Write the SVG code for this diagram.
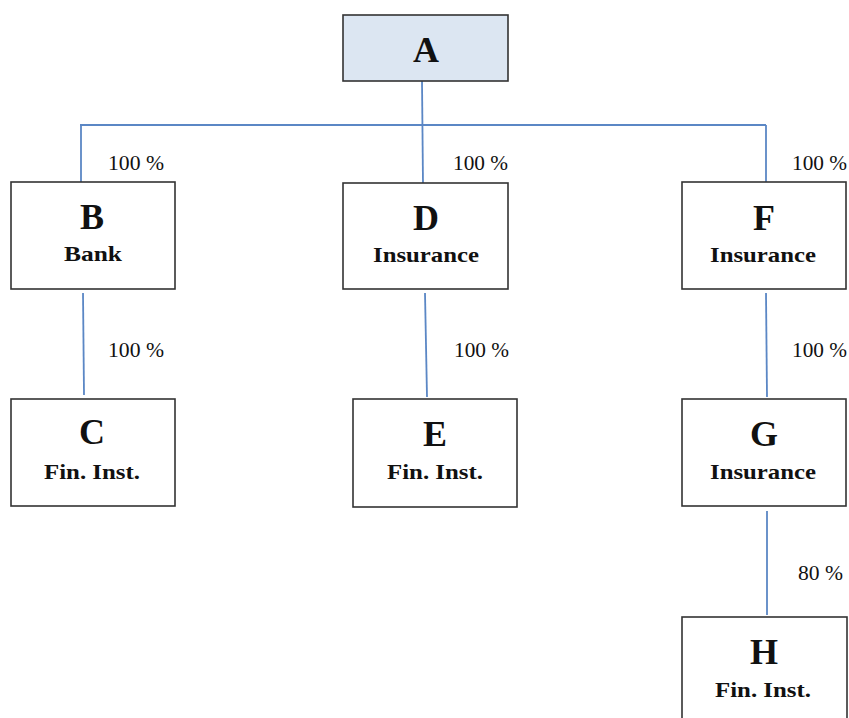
<svg xmlns="http://www.w3.org/2000/svg" width="849" height="718" viewBox="0 0 849 718">
<style>
.box{fill:#ffffff;stroke:#333333;stroke-width:1.6}
.top{fill:#dce6f2}
.big{font-family:"Liberation Serif","Times New Roman",serif;font-weight:bold;font-size:36px;text-anchor:middle;fill:#111}
.sub{font-family:"Liberation Serif","Times New Roman",serif;font-weight:bold;font-size:22px;text-anchor:middle;fill:#111}
.pct{font-family:"Liberation Serif","Times New Roman",serif;font-size:20px;fill:#111}
.conn line{stroke:#5b87c5;stroke-width:1.8;fill:none}
</style>
<rect width="849" height="718" fill="#ffffff"/>
<g id="connectors" class="conn">
<line x1="422" y1="81" x2="423" y2="185"/>
<line x1="80" y1="125" x2="766" y2="125"/>
<line x1="81" y1="125" x2="81" y2="187"/>
<line x1="766" y1="125" x2="766" y2="187"/>
<line x1="83" y1="293" x2="84" y2="395"/>
<line x1="425" y1="293" x2="427" y2="397"/>
<line x1="766" y1="293" x2="767" y2="397"/>
<line x1="767" y1="511" x2="767" y2="615"/>
</g>
<g id="labels">
<text class="pct" x="108" y="170" textLength="56" lengthAdjust="spacingAndGlyphs">100 %</text>
<text class="pct" x="453" y="170" textLength="55" lengthAdjust="spacingAndGlyphs">100 %</text>
<text class="pct" x="792" y="170" textLength="55" lengthAdjust="spacingAndGlyphs">100 %</text>
<text class="pct" x="108" y="357" textLength="56" lengthAdjust="spacingAndGlyphs">100 %</text>
<text class="pct" x="454" y="357" textLength="55" lengthAdjust="spacingAndGlyphs">100 %</text>
<text class="pct" x="792" y="357" textLength="55" lengthAdjust="spacingAndGlyphs">100 %</text>
<text class="pct" x="798" y="580" textLength="45" lengthAdjust="spacingAndGlyphs">80 %</text>
</g>
<g id="node-A">
<rect class="box top" x="343" y="15" width="165" height="66"/>
<text class="big" x="426" y="62">A</text>
</g>
<g id="node-B">
<rect class="box" x="11" y="182" width="164" height="107"/>
<text class="big" x="92" y="229">B</text>
<text class="sub" x="93" y="261" textLength="58" lengthAdjust="spacingAndGlyphs">Bank</text>
</g>
<g id="node-D">
<rect class="box" x="343" y="183" width="165" height="106"/>
<text class="big" x="426" y="230">D</text>
<text class="sub" x="426" y="262" textLength="106" lengthAdjust="spacingAndGlyphs">Insurance</text>
</g>
<g id="node-F">
<rect class="box" x="682" y="182" width="164" height="107"/>
<text class="big" x="764" y="230">F</text>
<text class="sub" x="763" y="262" textLength="106" lengthAdjust="spacingAndGlyphs">Insurance</text>
</g>
<g id="node-C">
<rect class="box" x="11" y="399" width="164" height="107"/>
<text class="big" x="92" y="444">C</text>
<text class="sub" x="92" y="479" textLength="96" lengthAdjust="spacingAndGlyphs">Fin. Inst.</text>
</g>
<g id="node-E">
<rect class="box" x="353" y="399" width="164" height="108"/>
<text class="big" x="435" y="446">E</text>
<text class="sub" x="435" y="479" textLength="96" lengthAdjust="spacingAndGlyphs">Fin. Inst.</text>
</g>
<g id="node-G">
<rect class="box" x="682" y="399" width="164" height="107"/>
<text class="big" x="764" y="446">G</text>
<text class="sub" x="763" y="479" textLength="106" lengthAdjust="spacingAndGlyphs">Insurance</text>
</g>
<g id="node-H">
<rect class="box" x="682" y="617" width="165" height="110"/>
<text class="big" x="764" y="664">H</text>
<text class="sub" x="763" y="697" textLength="96" lengthAdjust="spacingAndGlyphs">Fin. Inst.</text>
</g>
</svg>
